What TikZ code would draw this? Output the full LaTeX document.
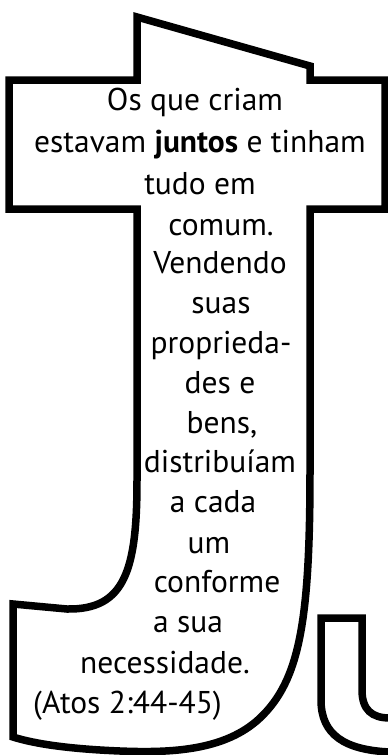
\documentclass[tikz,border=0pt]{standalone}
\usepackage{fontspec}
\setmainfont{PT Sans}
\usepackage{tikz}

\tikzset{
  outline/.style={line width=7.5pt, line join=miter},
  verse/.style={anchor=base, inner sep=0pt, font=\fontsize{31.5}{40}\selectfont}
}

\begin{document}
\begin{tikzpicture}[x=1pt, y=-1pt]
    \useasboundingbox (0,0) rectangle (388,755);

    %% drawing the big letter
    \draw[outline] (137,17) -- (310,66) -- (310,80) -- (385,80) -- (385,209)
      -- (310,209) -- (310,470)
      .. controls (310,620) and (300,680) .. (260,718)
      .. controls (225,751) and (170,753) .. (120,751)
      .. controls (70,749) and (35,744) .. (13,737)
      -- (13,604) -- (67,609)
      .. controls (125,610) and (137,570) .. (137,480)
      -- (137,209) -- (9,209) -- (9,80) -- (137,80) -- cycle;

    %% drawing the next letter, cut off
    \draw[outline] (390,752) .. controls (345,750) and (321,735) .. (321,700)
      -- (321,618) -- (362,618) -- (362,690)
      .. controls (362,710) and (372,718) .. (390,718);

    %% the verse, line by line
    \node[verse] (l1) at (195,110) {Os que criam};
    \node[verse] (l2) at (200,152) {estavam \textbf{juntos} e tinham};
    \node[verse] (l3) at (200,194) {tudo em};
    \node[verse] (l4) at (221,235) {comum.};
    \node[verse] (l5) at (220,273) {Vendendo};
    \node[verse] (l6) at (221,313) {suas};
    \node[verse] (l7) at (221,353) {proprieda-};
    \node[verse] (l8) at (220,393) {des e};
    \node[verse] (l9) at (222,433) {bens,};
    \node[verse] (l10) at (220,472) {distribuíam};
    \node[verse] (l11) at (213,512) {a cada};
    \node[verse] (l12) at (209,553) {um};
    \node[verse] (l13) at (217,592) {conforme};
    \node[verse] (l14) at (188,632) {a sua};
    \node[verse] (l15) at (165,673) {necessidade.};
    \node[verse, anchor=base west] (l16) at (33,713) {(Atos 2:44-45)};
  \end{tikzpicture}
\end{document}
